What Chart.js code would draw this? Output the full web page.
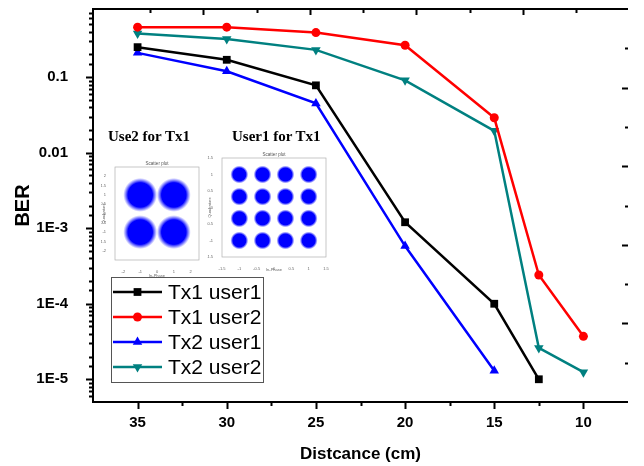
<!DOCTYPE html>
<html>
<head>
<meta charset="utf-8">
<script src="https://cdn.jsdelivr.net/npm/chart.js@4.4.0/dist/chart.umd.min.js"></script>
<style>
  html, body { margin: 0; padding: 0; background: #fff; }
  #wrap { position: relative; width: 644px; height: 466px; overflow: hidden; }
  #berChart { position: absolute; left: 0; top: 0; }
  .inset { position: absolute; }
  .cap { position: absolute; font: bold 15px "Liberation Serif", "Times New Roman", serif; line-height: 18px; color: #000; white-space: nowrap; }
</style>
</head>
<body>
<div id="wrap">
  <canvas id="berChart" width="644" height="466"></canvas>
  <div class="cap" style="left:108px; top:127px;">Use2 for Tx1</div>
  <div class="cap" style="left:232px; top:127px;">User1 for Tx1</div>
  <canvas id="qpskChart" class="inset" width="118" height="128" style="left:98px; top:150px;"></canvas>
  <canvas id="qamChart" class="inset" width="128" height="126" style="left:207px; top:146px;"></canvas>
</div>
<script>
// Distance (cm) for every measured point
const distances = [35, 30, 25, 20, 15, 12.5, 10];

// BER (null = no point)
const tx1User1 = [0.25, 0.17, 0.078, 1.2e-3, 1.0e-4, 1.0e-5, null];
const tx1User2 = [0.46, 0.46, 0.39, 0.265, 0.029, 2.4e-4, 3.7e-5];
const tx2User1 = [0.21, 0.12, 0.045, 5.8e-4, 1.3e-5, null, null];
const tx2User2 = [0.38, 0.32, 0.23, 0.091, 0.0195, 2.6e-5, 1.24e-5];

const seriesNames = ['Tx1 user1', 'Tx1 user2', 'Tx2 user1', 'Tx2 user2'];

// y axis labels shown at the decades
const yTickValues = [1e-5, 1e-4, 1e-3, 0.01, 0.1];
const yTickLabels = ['1E-5', '1E-4', '1E-3', '0.01', '0.1'];

// odd extra tick marks on the top edge and the right side of the frame
const topTickValues = [1, 2, 3, 4, 5, 6, 7, 8, 9];
const rightTickValues = [1, 2, 3, 4, 5, 6, 7, 8, 9];

// constellation centres for the two insets
const qpskI = [-1, 1, -1, 1];
const qpskQ = [1, 1, -1, -1];
const qamI = [-1, -0.33, 0.33, 1, -1, -0.33, 0.33, 1, -1, -0.33, 0.33, 1, -1, -0.33, 0.33, 1];
const qamQ = [1, 1, 1, 1, 0.33, 0.33, 0.33, 0.33, -0.33, -0.33, -0.33, -0.33, -1, -1, -1, -1];

// inset tick labels
const qpskXTicks = [-2, -1, 0, 1, 2];
const qpskYTicks = [-2, -1.5, -1, -0.5, 0, 0.5, 1, 1.5, 2];
const qamTicks = [-1.5, -1, -0.5, 0, 0.5, 1, 1.5];

const toPoints = values => distances
  .map((d, i) => ({ x: d, y: values[i] }))
  .filter(p => p.y !== null);

const styles = [
  { color: '#000000', pointStyle: 'rect', radius: 5.5, rotation: 0 },
  { color: '#ff0000', pointStyle: 'circle', radius: 4.5, rotation: 0 },
  { color: '#0000ff', pointStyle: 'triangle', radius: 5.5, rotation: 0 },
  { color: '#008080', pointStyle: 'triangle', radius: 5.5, rotation: 180 }
];

const seriesData = [tx1User1, tx1User2, tx2User1, tx2User2];

const datasets = seriesData.map((values, i) => ({
  label: seriesNames[i],
  data: toPoints(values),
  borderColor: styles[i].color,
  backgroundColor: styles[i].color,
  borderWidth: 2.5,
  pointStyle: styles[i].pointStyle,
  pointRadius: styles[i].radius,
  pointHoverRadius: styles[i].radius,
  pointRotation: styles[i].rotation,
  pointBorderWidth: 0,
  showLine: true,
  tension: 0,
  xAxisID: 'x',
  yAxisID: 'y'
}));

function isDecade(v) {
  const l = Math.log10(v);
  return Math.abs(l - Math.round(l)) < 1e-6;
}

// frame, tick marks and the legend box
const frameAndLegend = {
  id: 'frameAndLegend',
  afterDraw(chart) {
    const { ctx, chartArea: a, scales } = chart;
    const x = scales.x, y = scales.y;
    ctx.save();
    ctx.strokeStyle = '#000';
    ctx.lineWidth = 2;
    ctx.beginPath();
    ctx.moveTo(a.left, a.top);
    ctx.lineTo(a.right, a.top);
    ctx.moveTo(a.left, a.top - 1);
    ctx.lineTo(a.left, a.bottom);
    ctx.lineTo(a.right, a.bottom);
    // left axis ticks (outward)
    y.ticks.forEach(t => {
      const py = Math.round(y.getPixelForValue(t.value)) + 0.5;
      if (py <= a.top + 1 || py >= a.bottom - 1) return;
      const len = isDecade(t.value) ? 7 : 4;
      ctx.moveTo(a.left, py);
      ctx.lineTo(a.left - len, py);
    });
    // bottom axis ticks (outward)
    x.ticks.forEach(t => {
      const px = Math.round(x.getPixelForValue(t.value)) + 0.5;
      if (px <= a.left + 1 || px >= a.right - 1) return;
      const len = t.value % 5 === 0 ? 7 : 4;
      ctx.moveTo(px, a.bottom);
      ctx.lineTo(px, a.bottom + len);
    });
    // top edge ticks (inward)
    const xt = scales.xTop;
    topTickValues.forEach(v => {
      const px = Math.round(xt.getPixelForValue(v)) + 0.5;
      const len = v % 2 === 0 ? 6 : 4;
      ctx.moveTo(px, a.top);
      ctx.lineTo(px, a.top + len);
    });
    // right side ticks (inward, no axis line)
    const yr = scales.yRight;
    rightTickValues.forEach(v => {
      const py = Math.round(yr.getPixelForValue(v)) + 0.5;
      const len = v % 2 === 0 ? 6 : 3;
      ctx.moveTo(a.right, py);
      ctx.lineTo(a.right - len, py);
    });
    ctx.stroke();

    // legend
    const box = { left: 111, top: 277, right: 263, bottom: 382 };
    ctx.fillStyle = '#fff';
    ctx.fillRect(box.left, box.top, box.right - box.left, box.bottom - box.top);
    ctx.strokeStyle = '#555';
    ctx.lineWidth = 1;
    ctx.strokeRect(box.left + 0.5, box.top + 0.5, box.right - box.left, box.bottom - box.top);
    ctx.font = '21px "Liberation Sans", Arial, sans-serif';
    ctx.textBaseline = 'middle';
    ctx.textAlign = 'left';
    chart.data.datasets.forEach((ds, i) => {
      const ry = 292 + i * 25;
      ctx.strokeStyle = ds.borderColor;
      ctx.lineWidth = 2.5;
      ctx.beginPath();
      ctx.moveTo(113, ry);
      ctx.lineTo(162, ry);
      ctx.stroke();
      ctx.fillStyle = ds.backgroundColor;
      Chart.helpers.drawPoint(ctx, {
        pointStyle: ds.pointStyle,
        radius: ds.pointRadius,
        rotation: ds.pointRotation,
        borderWidth: 0
      }, 137.5, ry);
      ctx.fillStyle = '#000';
      ctx.fillText(ds.label, 168, ry + 1);
    });
    ctx.restore();
  }
};

new Chart(document.getElementById('berChart'), {
  type: 'scatter',
  data: { datasets: datasets },
  options: {
    responsive: false,
    animation: false,
    events: [],
    layout: { padding: { left: 0, top: 9, right: 16, bottom: 0 } },
    plugins: {
      legend: { display: false },
      tooltip: { enabled: false }
    },
    scales: {
      x: {
        type: 'linear',
        position: 'bottom',
        reverse: true,
        min: 7.5,
        max: 37.5,
        afterFit(scale) {
          scale.height = 64;
          scale.paddingLeft = 0;
          scale.paddingRight = 0;
        },
        grid: { display: false },
        border: { display: false },
        ticks: {
          stepSize: 2.5,
          autoSkip: false,
          maxRotation: 0,
          padding: 4,
          color: '#000',
          font: { family: '"Liberation Sans", Arial, sans-serif', size: 15, weight: 'bold' },
          callback: v => (v % 5 === 0 && v >= 10 && v <= 35) ? String(v) : ''
        },
        title: {
          display: true,
          text: 'Distcance (cm)',
          color: '#000',
          padding: { top: 0, bottom: 1 },
          font: { family: '"Liberation Sans", Arial, sans-serif', size: 17, weight: 'bold' }
        }
      },
      y: {
        type: 'logarithmic',
        position: 'left',
        min: 5e-6,
        max: 0.8,
        afterFit(scale) {
          scale.width = 93;
          scale.paddingTop = 0;
          scale.paddingBottom = 0;
        },
        grid: { display: false },
        border: { display: false },
        ticks: {
          autoSkip: false,
          padding: 17,
          color: '#000',
          font: { family: '"Liberation Sans", Arial, sans-serif', size: 15, weight: 'bold' },
          callback: v => {
            const k = yTickValues.findIndex(t => Math.abs(Math.log10(t) - Math.log10(v)) < 1e-6);
            return k >= 0 ? yTickLabels[k] : '';
          }
        },
        title: {
          display: true,
          text: 'BER',
          color: '#000',
          padding: { top: 11, bottom: 0 },
          font: { family: '"Liberation Sans", Arial, sans-serif', size: 20, weight: 'bold' }
        }
      },
      xTop: { type: 'linear', position: 'top', display: false, min: -0.07, max: 9.97 },
      yRight: { type: 'linear', position: 'right', display: false, min: 0, max: 10 }
    }
  },
  plugins: [frameAndLegend]
});

// ---- constellation insets ----
const insetFrame = {
  id: 'insetFrame',
  afterDraw(chart) {
    const { ctx, chartArea: a } = chart;
    ctx.save();
    ctx.strokeStyle = '#b0b0b0';
    ctx.lineWidth = 0.7;
    ctx.strokeRect(a.left, a.top, a.right - a.left, a.bottom - a.top);
    ctx.fillStyle = '#555';
    ctx.font = '4.5px "Liberation Sans", Arial, sans-serif';
    ctx.textAlign = 'center';
    ctx.textBaseline = 'bottom';
    ctx.fillText('Scatter plot', (a.left + a.right) / 2, a.top - 1);
    ctx.restore();
  }
};

// fuzzy cloud look: opaque centre fading out at the rim
function cloudFill(context) {
  const chart = context.chart;
  const p = context.raw;
  if (!p || !chart.chartArea) return '#0000ff';
  const px = chart.scales.x.getPixelForValue(p.x);
  const py = chart.scales.y.getPixelForValue(p.y);
  const r = context.dataset.pointRadius;
  const g = chart.ctx.createRadialGradient(px, py, 0, px, py, r);
  g.addColorStop(0, 'rgba(0,0,255,1)');
  g.addColorStop(0.72, 'rgba(0,0,255,1)');
  g.addColorStop(0.86, 'rgba(20,20,255,0.5)');
  g.addColorStop(1, 'rgba(60,60,255,0)');
  return g;
}

function makeInset(id, iVals, qVals, opts) {
  const pts = iVals.map((v, k) => ({ x: v, y: qVals[k] }));
  const tickFont = { family: '"Liberation Sans", Arial, sans-serif', size: 4 };
  const setTicks = list => scale => { scale.ticks = list.map(v => ({ value: v })); };
  new Chart(document.getElementById(id), {
    type: 'scatter',
    data: {
      datasets: [
        { data: pts, pointRadius: opts.radius, pointHoverRadius: opts.radius, pointBackgroundColor: cloudFill, pointBorderWidth: 0 }
      ]
    },
    options: {
      responsive: false,
      animation: false,
      events: [],
      layout: { padding: { left: 0, top: opts.top, right: opts.right, bottom: 0 } },
      plugins: { legend: { display: false }, tooltip: { enabled: false } },
      scales: {
        x: {
          min: opts.min, max: opts.max,
          afterBuildTicks: setTicks(opts.xTicks),
          afterFit(s) { s.height = opts.xh; s.paddingLeft = 0; s.paddingRight = 0; },
          grid: { display: false },
          border: { display: false },
          ticks: { autoSkip: false, padding: 1, color: '#666', font: tickFont, maxRotation: 0, callback: v => String(v) },
          title: { display: true, text: 'In-Phase', color: '#666', padding: 0, font: tickFont }
        },
        y: {
          min: opts.min, max: opts.max,
          afterBuildTicks: setTicks(opts.yTicks),
          afterFit(s) { s.width = opts.yw; s.paddingTop = 0; s.paddingBottom = 0; },
          grid: { display: false },
          border: { display: false },
          ticks: { autoSkip: false, padding: 1, color: '#666', font: tickFont, callback: v => String(v) },
          title: { display: true, text: 'Quadrature', color: '#666', padding: 0, font: tickFont }
        }
      }
    },
    plugins: [insetFrame]
  });
}

makeInset('qpskChart', qpskI, qpskQ, { min: -2.5, max: 2.5, xTicks: qpskXTicks, yTicks: qpskYTicks, radius: 17, top: 13, right: 8, xh: 18, yw: 14 });
makeInset('qamChart', qamI, qamQ, { min: -1.5, max: 1.5, xTicks: qamTicks, yTicks: qamTicks, radius: 9, top: 12, right: 9, xh: 15, yw: 15 });
</script>
</body>
</html>
